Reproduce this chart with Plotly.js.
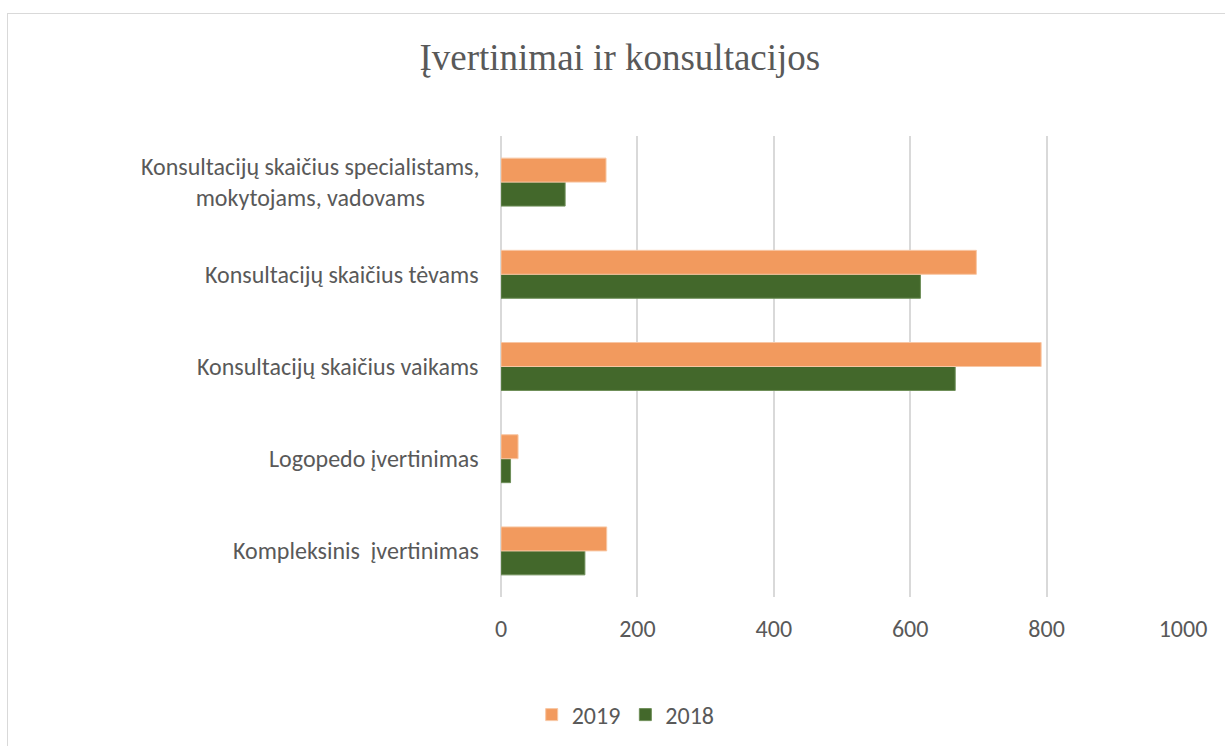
<!DOCTYPE html>
<html><head><meta charset="utf-8">
<script src="https://cdn.plot.ly/plotly-3.0.1.min.js"></script>
<style>
html,body{margin:0;padding:0;background:#fff;overflow:hidden;}
#frame{position:absolute;left:7px;top:13px;width:1240px;height:760px;border:1.5px solid #D9D9D9;box-sizing:border-box;}
#chart{position:absolute;left:0;top:0;width:1225px;height:746px;}
</style></head>
<body>
<div id="frame"></div>
<div id="chart"></div>
<script>
const categories = [
  "Kompleksinis  įvertinimas",
  "Logopedo įvertinimas",
  "Konsultacijų skaičius vaikams",
  "Konsultacijų skaičius tėvams",
  "Konsultacijų skaičius specialistams,<br>mokytojams, vadovams"
];
const values2019 = [155, 25, 792, 697, 154];
const values2018 = [123, 14, 666, 615, 94];
const tickVals = [0, 200, 400, 600, 800, 1000];

const font = "Carlito, Lato, 'Noto Sans', sans-serif";
const traces = [
  {type:'bar', orientation:'h', name:'2018', y:categories, x:values2018,
   marker:{color:'#43682B', line:{color:'#6E8E58', width:1}}, hoverinfo:'x'},
  {type:'bar', orientation:'h', name:'2019', y:categories, x:values2019,
   marker:{color:'#F29A5E', line:{color:'#F8C7A4', width:1}}, hoverinfo:'x'}
];
const annotations = categories.map(c => ({
  xref:'paper', yref:'y', x:-0.03, y:c, xanchor:'right', yanchor:'middle',
  text:c, showarrow:false, align:'center',
  font:{family:font, size:24, color:'#595959'}
}));
const layout = {
  width:1225, height:746,
  paper_bgcolor:'rgba(0,0,0,0)', plot_bgcolor:'rgba(0,0,0,0)',
  margin:{l:501, r:42, t:136, b:149, autoexpand:false},
  barmode:'group', bargap:0.48, bargroupgap:0,
  title:{text:'Įvertinimai ir konsultacijos', x:0.506, xanchor:'center', y:0.924, yanchor:'middle',
         font:{family:"'Liberation Serif', 'DejaVu Serif', serif", size:37, color:'#595959'}},
  xaxis:{range:[0,1000], tickvals:tickVals, ticktext:tickVals.map(String), automargin:false,
         showgrid:true, gridcolor:'#D9D9D9', gridwidth:2, zeroline:true, zerolinecolor:'#D9D9D9', zerolinewidth:2,
         showline:false, ticks:'', ticklabelstandoff:15, tickangle:0,
         tickfont:{family:font, size:24, color:'#595959'}, fixedrange:true},
  yaxis:{showgrid:false, zeroline:false, showline:false, ticks:'', showticklabels:false, automargin:false, fixedrange:true},
  annotations: annotations,
  showlegend:true,
  legend:{orientation:'h', traceorder:'reversed', x:0.045, xanchor:'left', y:-0.256, yanchor:'middle',
          font:{family:font, size:24, color:'#595959'}, itemwidth:30},
};
Plotly.newPlot('chart', traces, layout, {displayModeBar:false, staticPlot:true});
</script>
</body></html>
